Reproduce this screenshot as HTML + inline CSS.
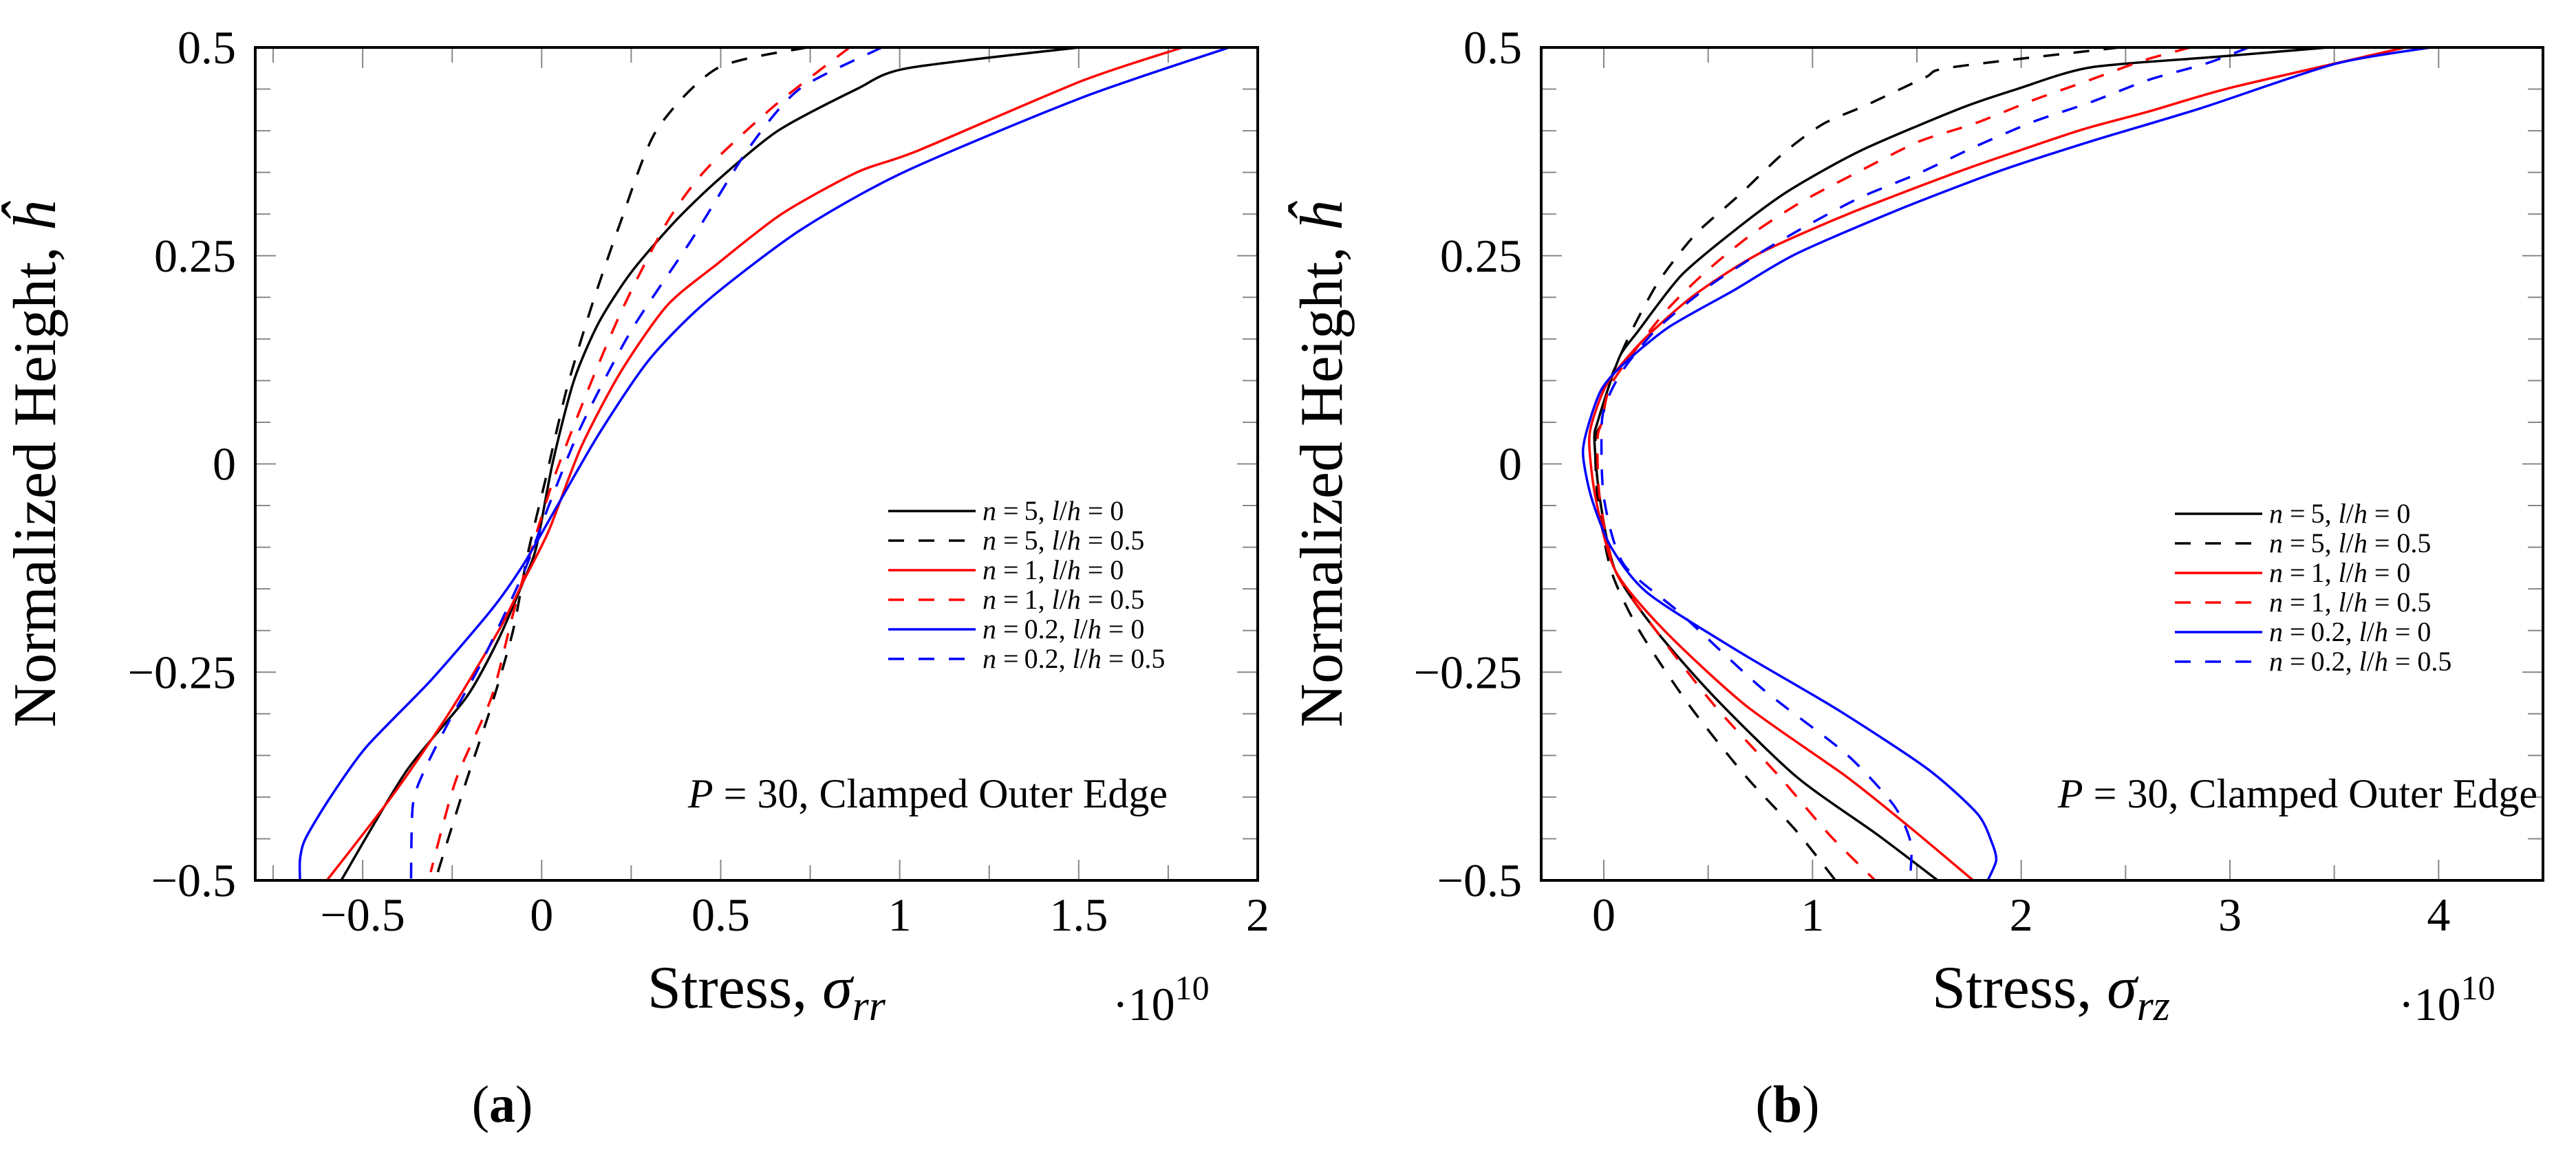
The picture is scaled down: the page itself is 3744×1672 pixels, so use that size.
<!DOCTYPE html>
<html><head><meta charset="utf-8"><style>
html,body{margin:0;padding:0;background:#fff;}
svg{display:block;font-family:"Liberation Serif","DejaVu Serif",serif;}
</style></head>
<body>
<svg id="fig" width="3744" height="1672" viewBox="0 0 3744 1672" xmlns="http://www.w3.org/2000/svg" font-family="'Liberation Serif', 'DejaVu Serif', serif">
<g id="chartA"></g>
<g id="chartB"></g>
</svg>
<script>
// ---- data (x in units of 1e10, y normalized height) ----
const aYTicks = [-0.5, -0.25, 0, 0.25, 0.5];
const aYTickLabels = ["\u22120.5", "\u22120.25", "0", "0.25", "0.5"];
const aXTicks = [-0.5, 0, 0.5, 1, 1.5, 2];
const aXTickLabels = ["\u22120.5", "0", "0.5", "1", "1.5", "2"];
const bXTicks = [0, 1, 2, 3, 4];
const bXTickLabels = ["0", "1", "2", "3", "4"];
const seriesNames = ["n = 5, l/h = 0", "n = 5, l/h = 0.5", "n = 1, l/h = 0", "n = 1, l/h = 0.5", "n = 0.2, l/h = 0", "n = 0.2, l/h = 0.5"];

// Chart a: sigma_rr
const a_n5_l0_y = [0.5,0.475,0.45,0.40,0.34,0.29,0.23,0.17,0.10,0,-0.1,-0.14,-0.21,-0.28,-0.37,-0.5];
const a_n5_l0_x = [1.5,1.02,0.88,0.66,0.49,0.37,0.25,0.16,0.09,0.03,-0.015,-0.05,-0.12,-0.21,-0.38,-0.56];
const a_n5_l5_y = [0.5,0.475,0.40,0.29,0.19,0.09,-0.02,-0.11,-0.20,-0.29,-0.38,-0.49];
const a_n5_l5_x = [0.74,0.49,0.32,0.22,0.14,0.07,0.01,-0.04,-0.08,-0.14,-0.21,-0.29];
const a_n1_l0_y = [0.5,0.46,0.376,0.35,0.30,0.24,0.19,0.11,0.02,-0.08,-0.14,-0.20,-0.30,-0.40,-0.5];
const a_n1_l0_x = [1.79,1.51,1.05,0.88,0.67,0.49,0.35,0.22,0.11,0.02,-0.05,-0.12,-0.26,-0.42,-0.60];
const a_n1_l5_y = [0.5,0.43,0.354,0.29,0.19,0.10,-0.01,-0.105,-0.18,-0.28,-0.38,-0.49];
const a_n1_l5_x = [0.86,0.65,0.46,0.35,0.23,0.14,0.04,-0.03,-0.08,-0.14,-0.24,-0.31];
const a_n02_l0_y = [0.5,0.44,0.35,0.28,0.195,0.125,0.036,-0.05,-0.12,-0.175,-0.26,-0.34,-0.40,-0.45,-0.475,-0.5];
const a_n02_l0_x = [1.92,1.51,1.01,0.72,0.46,0.30,0.16,0.044,-0.05,-0.14,-0.31,-0.49,-0.59,-0.66,-0.675,-0.675];
const a_n02_l5_y = [0.5,0.45,0.38,0.27,0.16,0.045,-0.05,-0.13,-0.24,-0.31,-0.37,-0.41,-0.5];
const a_n02_l5_x = [0.95,0.72,0.58,0.42,0.25,0.11,0.02,-0.05,-0.17,-0.26,-0.33,-0.36,-0.365];

// Chart b: sigma_rz
const b_n5_l0_y = [0.5,0.489,0.476,0.45,0.427,0.376,0.327,0.279,0.226,0.158,0.131,0.09,0.05,0.03,-0.04,-0.128,-0.2,-0.28,-0.375,-0.445,-0.5];
const b_n5_l0_x = [3.47,2.95,2.33,1.98,1.71,1.23,0.88,0.62,0.37,0.16,0.08,0.02,-0.03,-0.045,-0.02,0.055,0.25,0.53,0.92,1.31,1.60];
const b_n5_l5_y = [0.5,0.476,0.464,0.431,0.408,0.373,0.323,0.281,0.252,0.214,0.158,0.10,0.05,0.03,-0.04,-0.128,-0.2,-0.29,-0.375,-0.44,-0.5];
const b_n5_l5_x = [2.47,1.66,1.54,1.26,1.05,0.86,0.65,0.46,0.36,0.25,0.13,0.03,-0.01,-0.04,-0.03,0.035,0.17,0.41,0.68,0.92,1.11];
const b_n1_l0_y = [0.5,0.452,0.423,0.402,0.377,0.35,0.30,0.252,0.202,0.149,0.102,0.07,0.03,-0.04,-0.128,-0.2,-0.29,-0.375,-0.437,-0.5];
const b_n1_l0_x = [3.84,3.01,2.61,2.30,2.0,1.69,1.17,0.74,0.43,0.19,0.03,-0.03,-0.07,-0.04,0.055,0.29,0.68,1.16,1.47,1.77];
const b_n1_l5_y = [0.5,0.484,0.461,0.437,0.409,0.387,0.352,0.315,0.276,0.231,0.187,0.14,0.093,0.05,0.03,-0.04,-0.128,-0.2,-0.29,-0.375,-0.445,-0.5];
const b_n1_l5_x = [2.81,2.58,2.33,2.06,1.78,1.51,1.23,0.95,0.71,0.49,0.31,0.16,0.03,-0.01,-0.03,-0.02,0.055,0.25,0.53,0.84,1.08,1.30];
const b_n02_l0_y = [0.5,0.48,0.427,0.387,0.352,0.305,0.252,0.208,0.164,0.12,0.09,0.05,0.013,-0.04,-0.10,-0.155,-0.225,-0.295,-0.366,-0.42,-0.455,-0.476,-0.5];
const b_n02_l0_x = [3.96,3.50,2.86,2.33,1.90,1.41,0.92,0.62,0.31,0.095,-0.01,-0.07,-0.10,-0.06,0.035,0.21,0.645,1.12,1.55,1.79,1.86,1.88,1.84];
const b_n02_l5_y = [0.5,0.481,0.461,0.434,0.411,0.381,0.349,0.32,0.287,0.252,0.211,0.161,0.114,0.079,0.048,-0.04,-0.12,-0.18,-0.27,-0.348,-0.41,-0.454,-0.49];
const b_n02_l5_x = [3.09,2.89,2.61,2.33,2.06,1.78,1.51,1.23,0.98,0.74,0.49,0.25,0.095,0.02,-0.01,0,0.094,0.37,0.76,1.16,1.39,1.47,1.47];

const colors = ["#000","#000","#f00","#f00","#00f","#00f"];
const dashed = [false,true,false,true,false,true];

const NS = "http://www.w3.org/2000/svg";
function mk(tag, attrs, parent){ const e=document.createElementNS(NS,tag); for(const k in attrs) e.setAttribute(k,attrs[k]); parent.appendChild(e); return e; }

function splinePath(pts){
  const k=8;
  let d="M"+pts[0][0].toFixed(1)+","+pts[0][1].toFixed(1);
  for(let i=0;i<pts.length-1;i++){
    const p0=pts[Math.max(0,i-1)], p1=pts[i], p2=pts[i+1], p3=pts[Math.min(pts.length-1,i+2)];
    const c1=[p1[0]+(p2[0]-p0[0])/k, p1[1]+(p2[1]-p0[1])/k];
    const c2=[p2[0]-(p3[0]-p1[0])/k, p2[1]-(p3[1]-p1[1])/k];
    d+=" C"+c1[0].toFixed(1)+","+c1[1].toFixed(1)+" "+c2[0].toFixed(1)+","+c2[1].toFixed(1)+" "+p2[0].toFixed(1)+","+p2[1].toFixed(1);
  }
  return d;
}

function drawChart(g, cfg){
  const L=cfg.left, R=cfg.right, T=69, B=1280;
  const sx = v => L + (v-cfg.xmin)/(cfg.xmax-cfg.xmin)*(R-L);
  const sy = v => B - (v+0.5)*(B-T);
  for(let i=0;i<=20;i++){
    const v=-0.5+i*0.05; const y=sy(v); const major = i%5===0;
    const len = major?30:22;
    const t1=mk("line",{x1:L,y1:y,x2:L+len,y2:y,stroke:"#888","stroke-width":2},g);
    
    
    const t2=mk("line",{x1:R,y1:y,x2:R-len,y2:y,stroke:"#888","stroke-width":2},g);
    
    
  }
  for(let v=cfg.minorStart; v<=cfg.xmax+1e-9; v+=cfg.minorStep){
    const x=sx(v); const major=Math.abs(v/cfg.majorStep-Math.round(v/cfg.majorStep))<1e-6;
    const len = major?30:22;
    const t1=mk("line",{x1:x,y1:B,x2:x,y2:B-len,stroke:"#888","stroke-width":2},g);
    
    
    const t2=mk("line",{x1:x,y1:T,x2:x,y2:T+len,stroke:"#888","stroke-width":2},g);
    
    
  }
  cfg.series.forEach((s,i)=>{
    const pts = s.x.map((xv,j)=>[sx(xv), sy(s.y[j])]);
    const p=mk("path",{d:splinePath(pts),fill:"none",stroke:colors[i],"stroke-width":3.5,"stroke-linejoin":"round"},g);
    if(dashed[i]) p.setAttribute("stroke-dasharray","23 21");
    
    
  });
  const fr=mk("rect",{x:L,y:T,width:R-L,height:B-T,fill:"none",stroke:"#000","stroke-width":4},g);
  
  
  aYTicks.forEach((v,i)=>{
    const t=mk("text",{x:L-28,y:sy(v)+23,"text-anchor":"end","font-size":68},g);
    t.textContent=aYTickLabels[i];
    
    
  });
  cfg.xTicks.forEach((v,i)=>{
    const t=mk("text",{x:sx(v),y:1353,"text-anchor":"middle","font-size":68},g);
    t.textContent=cfg.xLabels[i];
    
    
  });
  const yt=mk("text",{x:0,y:0,"text-anchor":"middle","font-size":88,transform:`translate(${cfg.ytX},675) rotate(-90)`},g);
  yt.innerHTML='Normalized Height, <tspan font-style="italic">ĥ</tspan>';
  
  
  const xt=mk("text",{x:cfg.xtX,y:1465,"font-size":88},g);
  xt.innerHTML='Stress, <tspan font-style="italic">σ</tspan><tspan font-style="italic" font-size="62" dy="18">'+cfg.sub+'</tspan>';
  
  
  const ex=mk("text",{x:cfg.expX,y:1483,"font-size":68},g);
  ex.innerHTML='·10<tspan font-size="50" dy="-30">10</tspan>';
  
  
  const lg=mk("g",{},g);
  
  
  seriesNames.forEach((n,i)=>{
    const y=cfg.legY+i*43;
    const l=mk("line",{x1:cfg.legX,y1:y,x2:cfg.legX+127,y2:y,stroke:colors[i],"stroke-width":3.5},lg);
    if(dashed[i]) l.setAttribute("stroke-dasharray","23 21");
    
    
    const parts=n.split(", ");
    const t=mk("text",{x:cfg.legX+137,y:y+13,"font-size":40},lg);
    t.innerHTML='<tspan font-style="italic">n</tspan> =\u2009'+parts[0].slice(4)+', <tspan font-style="italic">l</tspan>/<tspan font-style="italic">h</tspan> = '+parts[1].slice(6);
    
    
  });
  const an=mk("text",{x:cfg.annX,y:1174,"font-size":60},g);
  an.innerHTML='<tspan font-style="italic">P</tspan> = 30, Clamped Outer Edge';
  
  
  const cap=mk("text",{x:cfg.capX,y:1631,"font-size":76,"text-anchor":"middle"},g);
  cap.innerHTML='(<tspan font-weight="bold">'+cfg.cap+'</tspan>)';
  
  
}

drawChart(document.getElementById("chartA"),{
  left:371,right:1828,xmin:-0.8,xmax:2,minorStart:-0.75,minorStep:0.25,majorStep:0.5,
  xTicks:aXTicks,xLabels:aXTickLabels,ytX:80,xtX:941,sub:"rr",expX:1617,legX:1291,legY:743,annX:1000,capX:730,cap:"a",
  series:[{x:a_n5_l0_x,y:a_n5_l0_y},{x:a_n5_l5_x,y:a_n5_l5_y},{x:a_n1_l0_x,y:a_n1_l0_y},{x:a_n1_l5_x,y:a_n1_l5_y},{x:a_n02_l0_x,y:a_n02_l0_y},{x:a_n02_l5_x,y:a_n02_l5_y}]
});
drawChart(document.getElementById("chartB"),{
  left:2240,right:3696,xmin:-0.3,xmax:4.5,minorStart:0,minorStep:0.5,majorStep:1,
  xTicks:bXTicks,xLabels:bXTickLabels,ytX:1950,xtX:2808,sub:"rz",expX:3486,legX:3161,legY:747,annX:2991,capX:2598,cap:"b",
  series:[{x:b_n5_l0_x,y:b_n5_l0_y},{x:b_n5_l5_x,y:b_n5_l5_y},{x:b_n1_l0_x,y:b_n1_l0_y},{x:b_n1_l5_x,y:b_n1_l5_y},{x:b_n02_l0_x,y:b_n02_l0_y},{x:b_n02_l5_x,y:b_n02_l5_y}]
});
</script>
</body></html>
